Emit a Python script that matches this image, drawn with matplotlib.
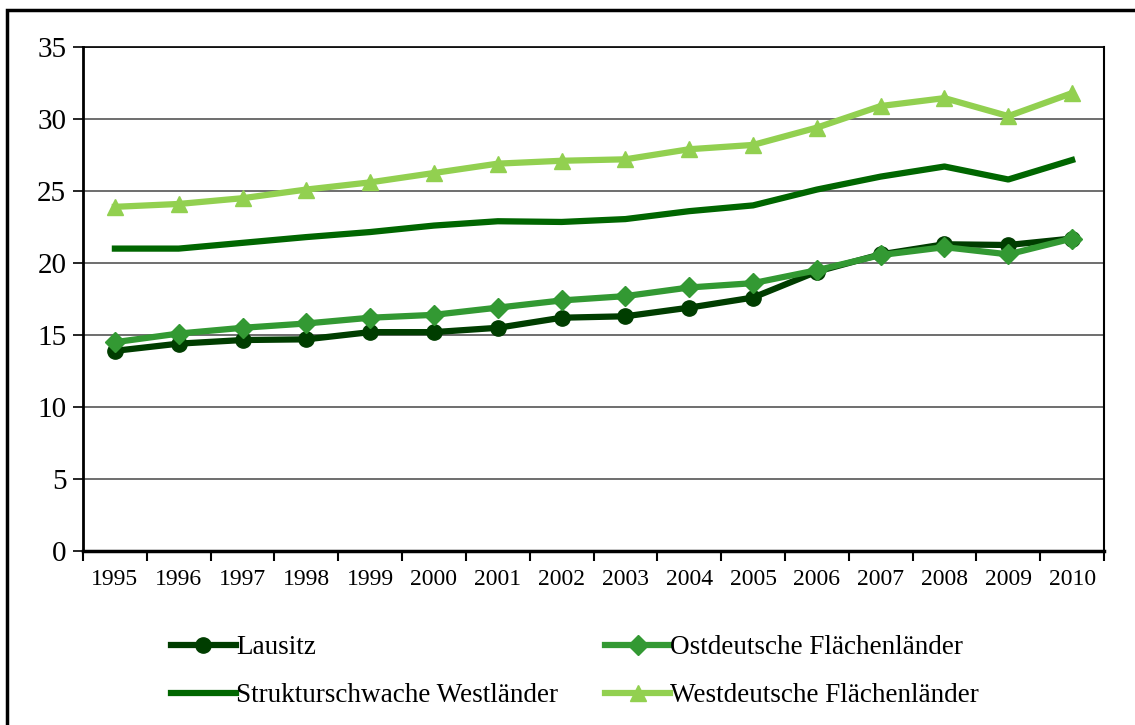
import numpy as np
import matplotlib.pyplot as plt
from matplotlib.patches import Rectangle

plt.rcParams["font.family"] = ["Liberation Serif", "DejaVu Serif"]

years = ["1995", "1996", "1997", "1998", "1999", "2000", "2001", "2002",
         "2003", "2004", "2005", "2006", "2007", "2008", "2009", "2010"]

lausitz = [13.9, 14.4, 14.65, 14.7, 15.2, 15.2, 15.5, 16.2,
           16.3, 16.9, 17.6, 19.4, 20.6, 21.3, 21.25, 21.7]
ost = [14.5, 15.1, 15.5, 15.8, 16.2, 16.4, 16.9, 17.4,
       17.7, 18.3, 18.6, 19.5, 20.55, 21.1, 20.6, 21.7]
struktur = [21.0, 21.0, 21.4, 21.8, 22.15, 22.6, 22.9, 22.85,
            23.05, 23.6, 24.0, 25.1, 26.0, 26.7, 25.8, 27.15]
west = [23.9, 24.1, 24.5, 25.1, 25.6, 26.25, 26.9, 27.1,
        27.2, 27.9, 28.2, 29.4, 30.9, 31.45, 30.2, 31.8]

fig = plt.figure(figsize=(11.35, 7.25), dpi=100)
ax = fig.add_axes([83 / 1135, 1 - 551 / 725, (1104 - 83) / 1135, (551 - 47) / 725])

# outer chart frame
fig.patches.append(Rectangle((7 / 1135, -0.05), 1.1, 1 - 10 / 725 + 0.05,
                             transform=fig.transFigure, fill=False,
                             edgecolor="black", linewidth=2.5, clip_on=False))

x = np.arange(len(years))
l1, = ax.plot(x, lausitz, color="#003d00", lw=4.5, marker="o", ms=11, label="Lausitz", zorder=3)
l2, = ax.plot(x, ost, color="#339933", lw=4.5, marker="D", ms=10, label="Ostdeutsche Flächenländer", zorder=4)
l3, = ax.plot(x, struktur, color="#006600", lw=4.5, label="Strukturschwache Westländer", zorder=3)
l4, = ax.plot(x, west, color="#92d050", lw=4.5, marker="^", ms=12, label="Westdeutsche Flächenländer", zorder=3)

ax.set_xlim(-0.5, len(years) - 0.5)
ax.set_ylim(0, 35)
ax.set_yticks(range(0, 36, 5))
ax.set_xticks(x)
ax.set_xticklabels(years, fontsize=17)
ax.set_xticks(np.arange(-0.5, len(years), 1), minor=True)
ax.tick_params(axis="x", which="major", length=0, pad=13)
ax.tick_params(axis="x", which="minor", length=7, width=1.5, direction="out")
ax.tick_params(axis="y", labelsize=21, length=7, width=1.2, pad=5)
ax.grid(axis="y", color="#555555", lw=1.2)
ax.set_axisbelow(True)
ax.spines["left"].set_linewidth(2)
ax.spines["bottom"].set_linewidth(2.5)
ax.spines["top"].set_linewidth(1.2)
ax.spines["right"].set_linewidth(1.5)

handles = [l1, l3, l2, l4]
fig.legend(handles=handles, labels=[h.get_label() for h in handles],
           loc="lower left", bbox_to_anchor=(160 / 1135, 6 / 725), ncol=2,
           frameon=False, fontsize=19.5, handlelength=2.4, handletextpad=0.0,
           columnspacing=1.75, labelspacing=0.85, borderaxespad=0)

fig.savefig("out.png", dpi=100)
